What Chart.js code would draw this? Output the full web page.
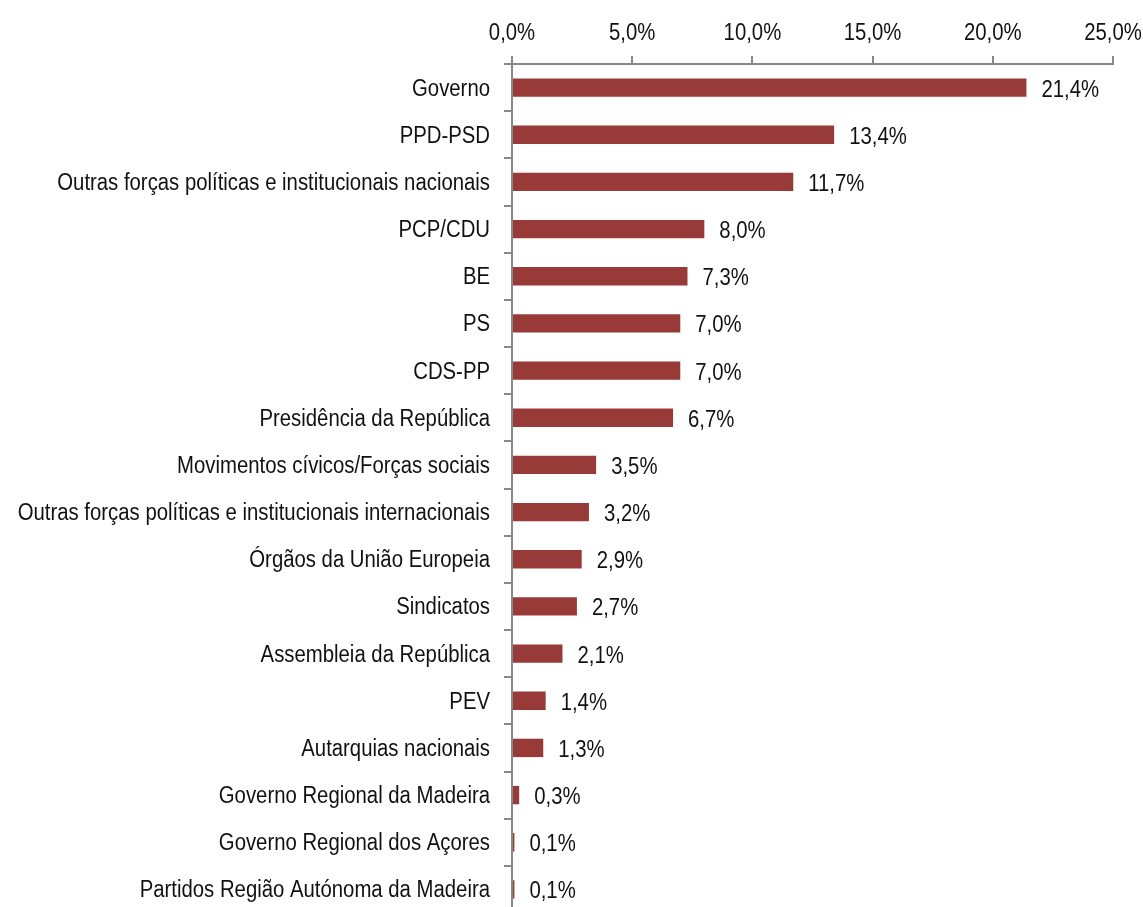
<!DOCTYPE html>
<html lang="pt">
<head>
  <meta charset="UTF-8" />
  <title>Protagonistas</title>
  <script src="https://cdn.jsdelivr.net/npm/chart.js"></script>
  <style>
    html, body { margin: 0; padding: 0; background: #fff; overflow: hidden; }
    #wrap { width: 1143px; height: 913px; }
  </style>
</head>
<body>
  <div id="wrap"><canvas id="chart"></canvas></div>

  <script>
    const categorias = [
      "Governo",
      "PPD-PSD",
      "Outras forças políticas e institucionais nacionais",
      "PCP/CDU",
      "BE",
      "PS",
      "CDS-PP",
      "Presidência da República",
      "Movimentos cívicos/Forças sociais",
      "Outras forças políticas e institucionais internacionais",
      "Órgãos da União Europeia",
      "Sindicatos",
      "Assembleia da República",
      "PEV",
      "Autarquias nacionais",
      "Governo Regional da Madeira",
      "Governo Regional dos Açores",
      "Partidos Região Autónoma da Madeira"
    ];
    const valores = [21.4, 13.4, 11.7, 8.0, 7.3, 7.0, 7.0, 6.7, 3.5, 3.2, 2.9, 2.7, 2.1, 1.4, 1.3, 0.3, 0.1, 0.1];
    const escalaX = { min: 0, max: 25, passo: 5 };

    // fonte "estreita": Liberation Sans comprimida na horizontal
    const FONTE = '23.5px "Liberation Sans", Arial, sans-serif';
    const ESTREITO = 0.865;
    const pct = v => Number(v).toFixed(1).replace('.', ',') + '%';

    function texto(ctx, s, x, y, align) {
      ctx.save();
      ctx.translate(x, y);
      ctx.scale(ESTREITO, 1);
      ctx.textAlign = align;
      ctx.fillText(s, 0, 0);
      ctx.restore();
    }

    // todos os textos desenhados à mão (rótulos dos eixos e valores)
    const textos = {
      id: 'textos',
      afterDraw(chart) {
        const ctx = chart.ctx;
        const meta = chart.getDatasetMeta(0);
        const x = chart.scales.x;
        ctx.save();
        ctx.font = FONTE;
        ctx.fillStyle = '#111111';
        ctx.textBaseline = 'alphabetic';
        x.ticks.forEach(t => {
          texto(ctx, pct(t.value), x.getPixelForValue(t.value), 40, 'center');
        });
        meta.data.forEach((bar, i) => {
          texto(ctx, categorias[i], 490, bar.y + 8, 'right');
          texto(ctx, pct(valores[i]), bar.x + 15, bar.y + 9, 'left');
        });
        ctx.restore();
      }
    };

    new Chart(document.getElementById('chart'), {
      type: 'bar',
      data: {
        labels: categorias,
        datasets: [{
          data: valores,
          backgroundColor: '#973a38',
          borderWidth: 0,
          barPercentage: 0.78,
          categoryPercentage: 0.5
        }]
      },
      options: {
        indexAxis: 'y',
        responsive: true,
        maintainAspectRatio: false,
        animation: false,
        layout: { padding: { left: 0, right: 30, top: 0, bottom: 0 } },
        plugins: {
          legend: { display: false },
          tooltip: { enabled: false }
        },
        scales: {
          x: {
            position: 'top',
            min: escalaX.min,
            max: escalaX.max,
            ticks: { stepSize: escalaX.passo, display: false },
            grid: {
              drawOnChartArea: false,
              drawTicks: true,
              tickLength: 8,
              color: '#888888',
              lineWidth: 2
            },
            border: { color: '#888888', width: 2 },
            afterFit: s => { s.height = 64; }
          },
          y: {
            ticks: { display: false, autoSkip: false },
            grid: {
              drawOnChartArea: false,
              drawTicks: true,
              tickLength: 8,
              color: '#888888',
              lineWidth: 2
            },
            border: { color: '#888888', width: 2 },
            afterFit: s => { s.width = 512; }
          }
        }
      },
      plugins: [textos]
    });
  </script>
</body>
</html>
